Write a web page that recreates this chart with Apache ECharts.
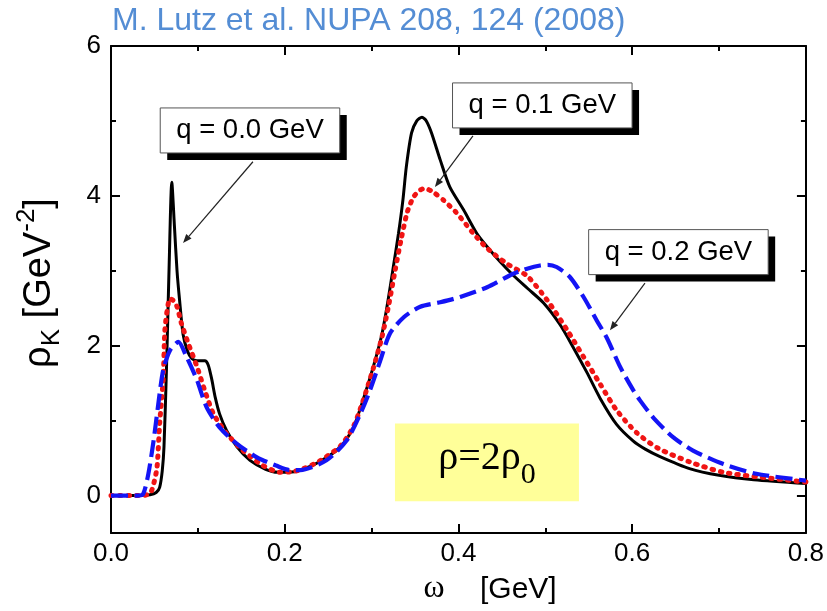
<!DOCTYPE html>
<html>
<head>
<meta charset="utf-8">
<script src="https://cdn.jsdelivr.net/npm/echarts@6/dist/echarts.min.js"></script>
<style>
  html, body { margin: 0; padding: 0; background: #ffffff; }
  #chart { width: 827px; height: 611px; }
</style>
</head>
<body>
<div id="chart"></div>
<script>
// Kaon spectral function rho_K(omega) at rho = 2 rho_0 for three momenta q.
const omegaQ0 = [0, 0.030, 0.045, 0.052, 0.056, 0.059, 0.061, 0.064, 0.067, 0.070, 0.073, 0.076, 0.079, 0.083, 0.088, 0.093, 0.099, 0.108, 0.112, 0.116, 0.120, 0.125, 0.133, 0.145, 0.160, 0.178, 0.192, 0.205, 0.218, 0.240, 0.264, 0.279, 0.290, 0.302, 0.312, 0.319, 0.325, 0.331, 0.336, 0.340, 0.346, 0.352, 0.358, 0.363, 0.369, 0.379, 0.390, 0.406, 0.421, 0.433, 0.448, 0.463, 0.480, 0.498, 0.517, 0.532, 0.548, 0.563, 0.582, 0.601, 0.615, 0.632, 0.666, 0.700, 0.740, 0.800];
const rhoQ0 = [0, 0, 0.01, 0.04, 0.11, 0.33, 0.65, 1.75, 3.1, 4.18, 3.6, 3.0, 2.6, 2.15, 1.93, 1.83, 1.80, 1.80, 1.74, 1.55, 1.31, 1.09, 0.87, 0.65, 0.47, 0.35, 0.31, 0.31, 0.34, 0.45, 0.65, 0.91, 1.27, 1.72, 2.16, 2.61, 3.05, 3.50, 3.94, 4.39, 4.84, 5.0, 5.05, 5.0, 4.84, 4.48, 4.12, 3.81, 3.50, 3.32, 3.12, 2.94, 2.76, 2.57, 2.28, 1.98, 1.64, 1.30, 0.95, 0.73, 0.62, 0.52, 0.36, 0.27, 0.21, 0.16];

const omegaQ1 = [0, 0.035, 0.045, 0.049, 0.053, 0.056, 0.060, 0.062, 0.065, 0.068, 0.072, 0.076, 0.081, 0.089, 0.099, 0.108, 0.118, 0.133, 0.152, 0.175, 0.195, 0.210, 0.222, 0.240, 0.264, 0.279, 0.290, 0.302, 0.312, 0.320, 0.327, 0.334, 0.341, 0.348, 0.355, 0.361, 0.371, 0.383, 0.398, 0.417, 0.433, 0.455, 0.479, 0.502, 0.525, 0.544, 0.563, 0.582, 0.605, 0.630, 0.666, 0.705, 0.760, 0.800];
const rhoQ1 = [0, 0, 0.03, 0.15, 0.38, 0.96, 1.54, 2.2, 2.5, 2.63, 2.6, 2.52, 2.3, 2.03, 1.72, 1.40, 1.09, 0.83, 0.60, 0.40, 0.31, 0.32, 0.36, 0.46, 0.66, 0.92, 1.26, 1.70, 2.12, 2.56, 3.00, 3.42, 3.78, 3.98, 4.07, 4.10, 4.05, 3.94, 3.77, 3.50, 3.30, 3.10, 2.93, 2.61, 2.21, 1.85, 1.49, 1.14, 0.84, 0.63, 0.45, 0.31, 0.23, 0.18];

const omegaQ2 = [0, 0.030, 0.037, 0.043, 0.049, 0.054, 0.060, 0.068, 0.0775, 0.087, 0.099, 0.110, 0.125, 0.145, 0.168, 0.190, 0.206, 0.218, 0.248, 0.271, 0.287, 0.298, 0.310, 0.321, 0.337, 0.356, 0.379, 0.402, 0.433, 0.463, 0.480, 0.494, 0.503, 0.513, 0.528, 0.544, 0.559, 0.571, 0.586, 0.600, 0.609, 0.625, 0.647, 0.670, 0.705, 0.743, 0.800];
const rhoQ2 = [0, 0, 0.02, 0.29, 0.73, 1.18, 1.67, 1.94, 2.05, 1.85, 1.54, 1.18, 0.91, 0.69, 0.51, 0.40, 0.34, 0.34, 0.47, 0.73, 1.09, 1.40, 1.80, 2.16, 2.38, 2.52, 2.58, 2.65, 2.78, 2.96, 3.03, 3.07, 3.08, 3.05, 2.92, 2.65, 2.34, 2.10, 1.72, 1.43, 1.27, 1.03, 0.78, 0.60, 0.42, 0.29, 0.20];

const seriesNames = ['q = 0.0 GeV', 'q = 0.1 GeV', 'q = 0.2 GeV'];
const yMajorTicks = [0, 2, 4, 6];
const yMinorTicks = [1, 3, 5];
const titleText = 'M. Lutz et al. NUPA 208, 124 (2008)';

// Callout anchors in data space: box centre, arrow tail and arrow tip.
const callouts = [
  { label: seriesNames[0], box: [0.160, 4.873], tail: [0.1634, 4.455], tip: [0.0829, 3.369] },
  { label: seriesNames[1], box: [0.4965, 5.207], tail: [0.4167, 4.80], tip: [0.3729, 4.118] },
  { label: seriesNames[2], box: [0.6532, 3.249], tail: [0.6147, 2.834], tip: [0.5744, 2.206] }
];
// Density panel corners in data space.
const densityPanel = { from: [0.3269, 0.963], to: [0.5387, -0.076] };

const SANS = '"Liberation Sans", Arial, sans-serif';
const SERIF = '"Liberation Serif", "DejaVu Serif", "Times New Roman", serif';

const pairs = (xs, ys) => xs.map((x, i) => [x, ys[i]]);

const measureCtx = document.createElement('canvas').getContext('2d');
function textWidth(str, size, family) {
  measureCtx.font = size + 'px ' + family;
  return measureCtx.measureText(str).width;
}
function textEl(str, size, family, x, y, align, z) {
  return {
    type: 'text', x: x, y: y, z: z || 12,
    style: {
      text: str, font: size + 'px ' + family, fontSize: size, fontFamily: family, fill: '#000',
      textAlign: align, textVerticalAlign: 'middle', align: align, verticalAlign: 'middle'
    }
  };
}

const chart = echarts.init(document.getElementById('chart'), null, { renderer: 'canvas' });

const black = '#000000';
const frameLine = { color: black, width: 2 };
const tickLine = { color: black, width: 2 };

function xAxisDef(position, showLabels) {
  return {
    type: 'value', position: position, min: 0, max: 0.8, interval: 0.2,
    axisLine: { show: true, onZero: false, lineStyle: frameLine },
    axisTick: { show: true, inside: true, length: 9, lineStyle: tickLine },
    minorTick: { show: true, splitNumber: 2, length: 5, lineStyle: tickLine },
    splitLine: { show: false },
    axisLabel: {
      show: showLabels, margin: 8, color: black, fontFamily: SANS, fontSize: 26,
      formatter: v => v.toFixed(1)
    }
  };
}
function yAxisDef(position, ticks, len, showLine, showLabels) {
  return {
    type: 'value', position: position, min: -0.5, max: 6,
    axisLine: { show: showLine, onZero: false, lineStyle: frameLine },
    axisTick: { show: true, inside: true, length: len, lineStyle: tickLine, customValues: ticks },
    splitLine: { show: false },
    axisLabel: {
      show: showLabels, margin: 10, color: black, fontFamily: SANS, fontSize: 26,
      customValues: ticks, formatter: v => String(Math.round(v))
    }
  };
}

chart.setOption({
  animation: false,
  backgroundColor: '#ffffff',
  title: {
    text: titleText, left: 112, top: 5, padding: 0,
    textStyle: { fontFamily: SANS, fontSize: 32, fontWeight: 'normal', color: '#548dd4' }
  },
  grid: { left: 111, right: 21, top: 46, bottom: 78, containLabel: false },
  xAxis: [xAxisDef('bottom', true), xAxisDef('top', false)],
  yAxis: [
    yAxisDef('left', yMajorTicks, 9, true, true),
    yAxisDef('left', yMinorTicks, 5, false, false),
    yAxisDef('right', yMajorTicks, 9, true, false),
    yAxisDef('right', yMinorTicks, 5, false, false)
  ],
  series: [
    {
      name: seriesNames[0], type: 'line', data: pairs(omegaQ0, rhoQ0),
      showSymbol: false, symbol: 'none', smooth: 0.25, z: 3,
      lineStyle: { color: '#000000', width: 3 }
    },
    {
      name: seriesNames[1], type: 'line', data: pairs(omegaQ1, rhoQ1),
      showSymbol: false, symbol: 'none', smooth: 0.25, z: 4,
      lineStyle: { color: '#f01414', width: 5, type: [1.5, 7], cap: 'round' }
    },
    {
      name: seriesNames[2], type: 'line', data: pairs(omegaQ2, rhoQ2),
      showSymbol: false, symbol: 'none', smooth: 0.25, z: 5,
      lineStyle: { color: '#1414f5', width: 4.2, type: [17, 6.5] }
    }
  ]
});

const toPx = p => chart.convertToPixel({ xAxisIndex: 0, yAxisIndex: 0 }, p);
const graphics = [];

// Yellow density panel with rho = 2 rho_0
const pA = toPx(densityPanel.from), pB = toPx(densityPanel.to);
graphics.push({
  type: 'rect', z: 1,
  shape: { x: pA[0], y: pA[1], width: pB[0] - pA[0], height: pB[1] - pA[1] },
  style: { fill: '#ffff99' }
});
{
  const mainStr = '\u03c1=2\u03c1', subStr = '0';
  const mainSize = 40, subSize = 30;
  const wMain = textWidth(mainStr, mainSize, SERIF);
  const wSub = textWidth(subStr, subSize, SERIF);
  const cx = (pA[0] + pB[0]) / 2, cy = (pA[1] + pB[1]) / 2;
  const x0 = cx - (wMain + wSub) / 2;
  graphics.push(textEl(mainStr, mainSize, SERIF, x0, cy - 4, 'left', 2));
  graphics.push(textEl(subStr, subSize, SERIF, x0 + wMain, cy + 13, 'left', 2));
}

// Callout boxes with drop shadow and arrows
callouts.forEach(c => {
  const size = 27.5;
  const w = textWidth(c.label, size, SANS) + 32, h = 45;
  const ctr = toPx(c.box);
  const bx = ctr[0] - w / 2, by = ctr[1] - h / 2;
  graphics.push({ type: 'rect', z: 10, shape: { x: bx + 7, y: by + 7, width: w, height: h }, style: { fill: '#000' } });
  graphics.push({ type: 'rect', z: 11, shape: { x: bx, y: by, width: w, height: h }, style: { fill: '#fff', stroke: '#555', lineWidth: 1 } });
  graphics.push(textEl(c.label, size, SANS, ctr[0], ctr[1], 'center', 12));
  const t0 = toPx(c.tail), t1 = toPx(c.tip);
  const dx = t1[0] - t0[0], dy = t1[1] - t0[1];
  const len = Math.hypot(dx, dy), ux = dx / len, uy = dy / len;
  const hl = 9, hw = 3.5;
  const bxp = t1[0] - ux * hl, byp = t1[1] - uy * hl;
  graphics.push({ type: 'line', z: 12, shape: { x1: t0[0], y1: t0[1], x2: bxp, y2: byp }, style: { stroke: '#222', lineWidth: 1.2 } });
  graphics.push({
    type: 'polygon', z: 12,
    shape: { points: [[t1[0], t1[1]], [bxp - uy * hw, byp + ux * hw], [bxp + uy * hw, byp - ux * hw]] },
    style: { fill: '#222' }
  });
});

// Axis titles
graphics.push(textEl('\u03c9', 32, SERIF, 434, 589, 'center', 12));
graphics.push(textEl('[GeV]', 30, SANS, 480, 590, 'left', 12));
{
  // rotated y title: rho_K [GeV^-2]
  const big = 38, small = 26;
  const pieces = [
    { t: '\u03c1', s: big, dy: 0 },
    { t: 'K', s: small, dy: 8 },
    { t: ' [GeV', s: big, dy: 0 },
    { t: '-2', s: small, dy: -17 },
    { t: ']', s: big, dy: 0 }
  ];
  let total = 0;
  pieces.forEach(p => { p.w = textWidth(p.t, p.s, SANS); total += p.w; });
  let cursor = -total / 2;
  const children = pieces.map(p => {
    const el = textEl(p.t, p.s, SANS, cursor, p.dy - 0.35 * p.s, 'left', 12);
    cursor += p.w;
    return el;
  });
  graphics.push({ type: 'group', x: 53, y: 283, rotation: Math.PI / 2, children: children });
}

chart.setOption({ graphic: graphics });
</script>
</body>
</html>
